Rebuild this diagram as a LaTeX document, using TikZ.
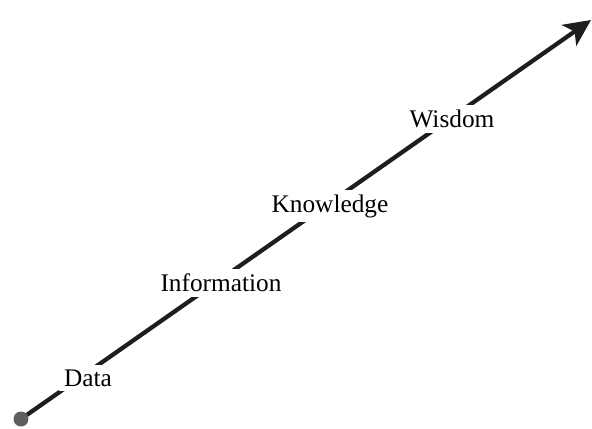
\documentclass[tikz,border=0pt]{standalone}
\usepackage{fontspec}
\setmainfont{Liberation Serif}
\usetikzlibrary{arrows.meta}

\definecolor{lineblack}{RGB}{30,30,30}
\definecolor{dotgrey}{RGB}{95,95,95}

\tikzset{every picture/.style={line width=0.75pt}}
\tikzset{stage/.style={fill=white,inner sep=3.5pt,font=\fontsize{19}{22}\selectfont}}

\begin{document}
\begin{tikzpicture}[x=0.75pt,y=0.75pt,yscale=-1,xscale=1]
\useasboundingbox (0,0) rectangle (592,428);

% start and end of the scale
\coordinate (start) at (21,419);
\coordinate (tip) at (591,20);

%Arrow
\draw [color=lineblack, line width=3.2pt, -{Stealth[length=20pt,width=19pt,inset=5pt]}] (start) -- (tip);
%Dot
\fill [dotgrey] (start) circle (7.5);

% Text Node
\node [stage] (data) at (88,378) {Data};
% Text Node
\node [stage] (information) at (221,283) {Information};
% Text Node
\node [stage] (knowledge) at (330,206) {Knowledge};
% Text Node
\node [stage] (wisdom) at (452,119) {Wisdom};

\end{tikzpicture}
\end{document}
